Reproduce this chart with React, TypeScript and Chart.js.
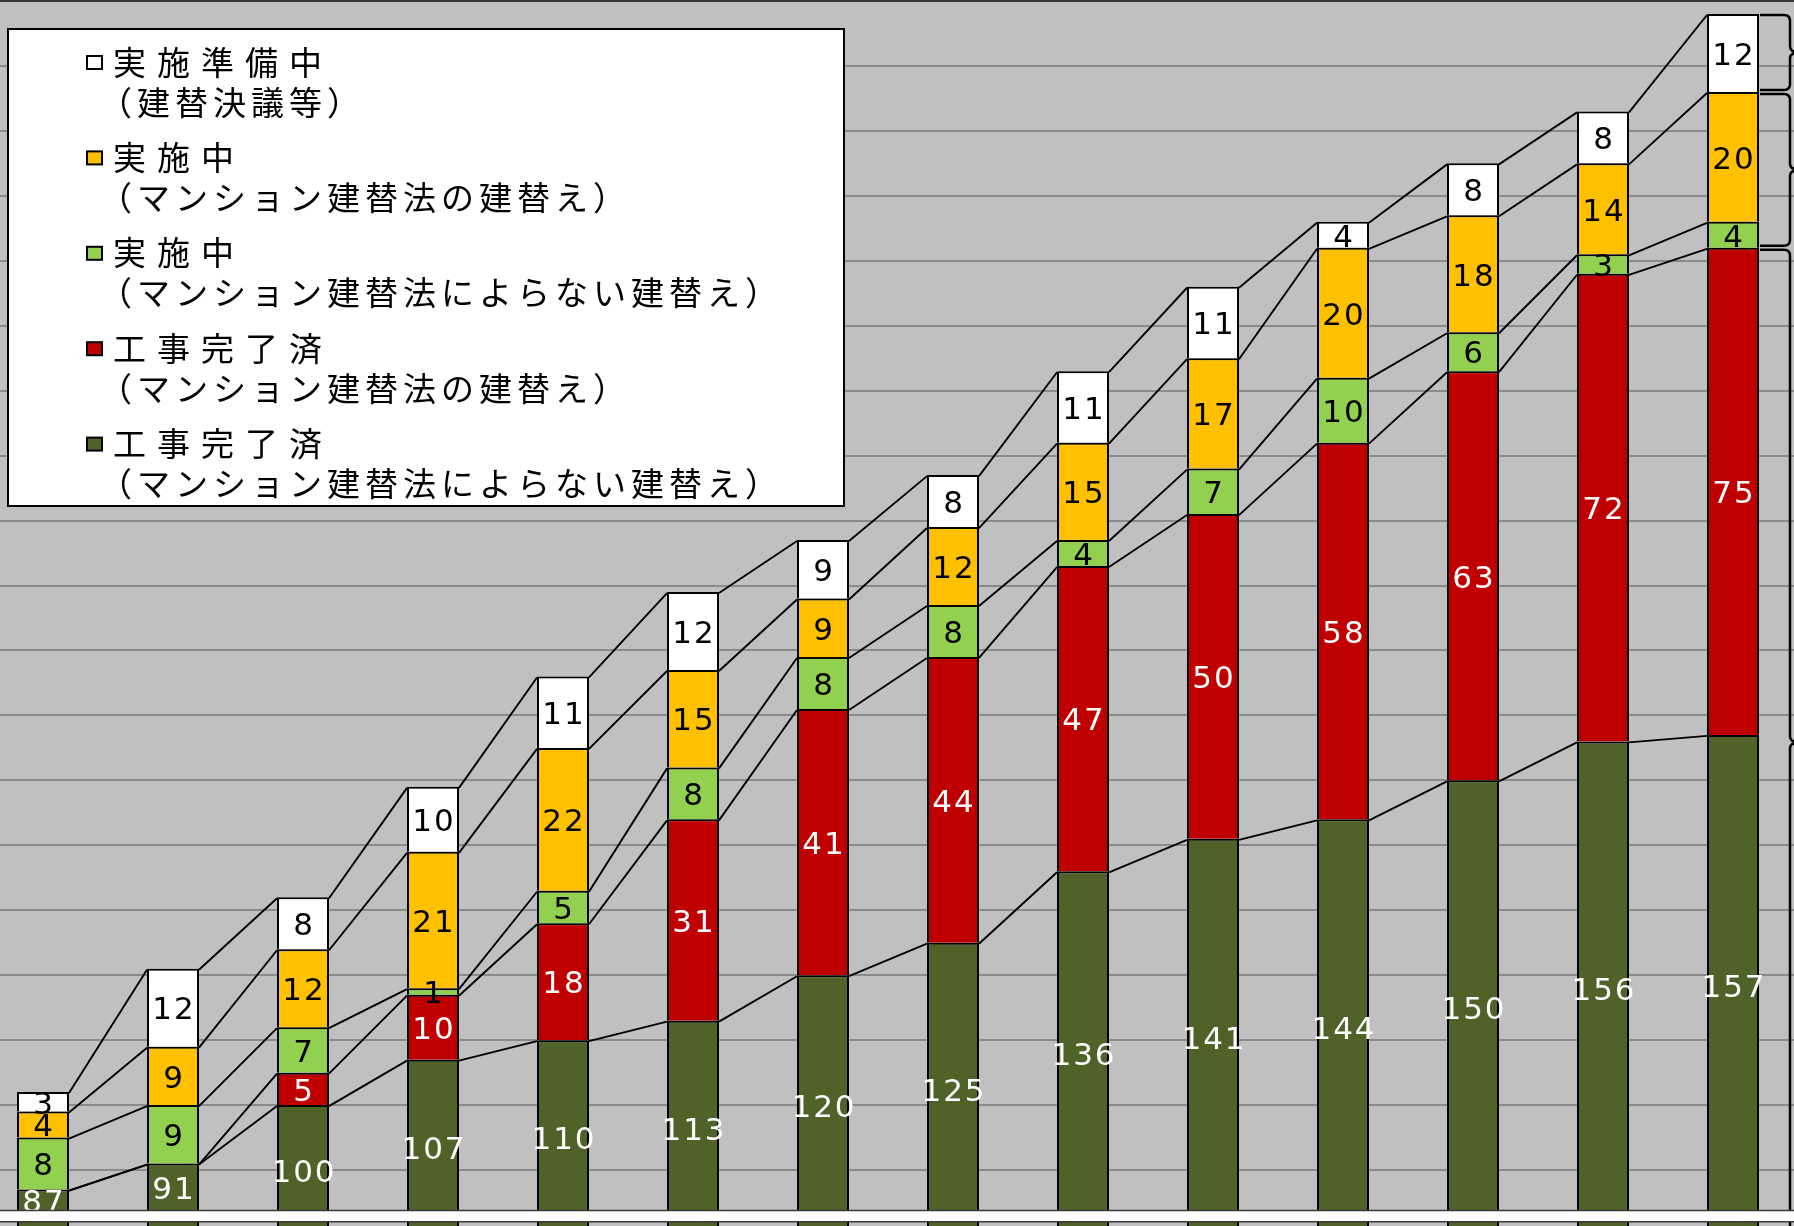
import React, { useEffect, useRef } from 'react';
import { Chart, registerables } from 'chart.js';

Chart.register(...registerables);

// ---- data (bottom of stack to top) ----
const categories = ['1', '2', '3', '4', '5', '6', '7', '8', '9', '10', '11', '12', '13', '14'];
const completedOther = [87, 91, 100, 107, 110, 113, 120, 125, 136, 141, 144, 150, 156, 157];
const completedLaw = [0, 0, 5, 10, 18, 31, 41, 44, 47, 50, 58, 63, 72, 75];
const ongoingOther = [8, 9, 7, 1, 5, 8, 8, 8, 4, 7, 10, 6, 3, 4];
const ongoingLaw = [4, 9, 12, 21, 22, 15, 9, 12, 15, 17, 20, 18, 14, 20];
const preparing = [3, 12, 8, 10, 11, 12, 9, 8, 11, 11, 4, 8, 8, 12];

const seriesTitles = ['工事完了済', '工事完了済', '実施中', '実施中', '実施準備中'];
const seriesNotes = [
  '（マンション建替法によらない建替え）',
  '（マンション建替法の建替え）',
  '（マンション建替法によらない建替え）',
  '（マンション建替法の建替え）',
  '（建替決議等）',
];
const seriesColors = ['#4f6228', '#c00000', '#92d050', '#ffc000', '#ffffff'];
const labelColors = ['#ffffff', '#ffffff', '#000000', '#000000', '#000000'];

const Y_MIN = 80;
const Y_MAX = 270;
const Y_STEP = 10;

const SHIFT_X = 22; // canvas is offset left so the first bar is partly at the page edge
const CANVAS_W = 1820;
const CANVAS_H = 1235;
const BREAK_TOP = 1211;
const BREAK_H = 10;

const allSeries = [completedOther, completedLaw, ongoingOther, ongoingLaw, preparing];

function drawBrace(ctx: CanvasRenderingContext2D, x0: number, yT: number, yB: number, yM: number) {
  const x1 = x0 + 30;
  const r = 6;
  ctx.beginPath();
  ctx.moveTo(x0, yT);
  ctx.lineTo(x1 - r, yT);
  ctx.quadraticCurveTo(x1, yT, x1, yT + r);
  ctx.lineTo(x1, yM - r);
  ctx.quadraticCurveTo(x1, yM, x1 + r + 4, yM);
  ctx.moveTo(x1 + r + 4, yM);
  ctx.quadraticCurveTo(x1, yM, x1, yM + r);
  ctx.lineTo(x1, yB - r);
  ctx.quadraticCurveTo(x1, yB, x1 - r, yB);
  ctx.lineTo(x0, yB);
  ctx.stroke();
}

const decorPlugin = {
  id: 'decor',
  beforeDraw(chart: any) {
    const ctx = chart.ctx as CanvasRenderingContext2D;
    ctx.save();
    ctx.fillStyle = '#c0c0c0';
    ctx.fillRect(0, 0, chart.width, chart.height);
    ctx.restore();
  },
  afterDatasetsDraw(chart: any) {
    const ctx = chart.ctx as CanvasRenderingContext2D;
    const area = chart.chartArea;
    ctx.save();
    // connector lines between bars for each cumulative boundary
    ctx.strokeStyle = '#000';
    ctx.lineWidth = 1.9;
    for (let k = 0; k < allSeries.length; k++) {
      const meta = chart.getDatasetMeta(k);
      for (let i = 0; i < categories.length - 1; i++) {
        const a = meta.data[i] as any;
        const b = meta.data[i + 1] as any;
        ctx.beginPath();
        ctx.moveTo(a.x + a.width / 2, a.y + 1);
        ctx.lineTo(b.x - b.width / 2, b.y + 1);
        ctx.stroke();
      }
    }
    // value labels
    const fs = 31;
    ctx.font = `${fs}px "DejaVu Sans"`;
    (ctx as any).letterSpacing = '2px';
    ctx.textAlign = 'center';
    ctx.textBaseline = 'alphabetic';
    for (let k = 0; k < allSeries.length; k++) {
      const meta = chart.getDatasetMeta(k);
      for (let i = 0; i < categories.length; i++) {
        const v = allSeries[k][i];
        if (!v) continue;
        const el = meta.data[i] as any;
        const top = el.y + 1;
        const bottom = k === 0 ? area.bottom : el.base;
        let cy = (top + bottom) / 2;
        if (k === 0 && cy + 16 > BREAK_TOP) cy = (top + BREAK_TOP) / 2;
        ctx.fillStyle = labelColors[k];
        ctx.fillText(String(v), el.x + 1, cy + fs * 0.364);
      }
    }
    ctx.restore();
  },
  afterDraw(chart: any) {
    const ctx = chart.ctx as CanvasRenderingContext2D;
    const y = chart.scales.y;
    ctx.save();
    // braces beside the last bar
    const last = categories.length - 1;
    const elTop = chart.getDatasetMeta(4).data[last] as any;
    const elOng = chart.getDatasetMeta(3).data[last] as any;
    const elOngO = chart.getDatasetMeta(2).data[last] as any;
    const elLaw = chart.getDatasetMeta(1).data[last] as any;
    const x0 = elTop.x + elTop.width / 2 + 1;
    ctx.strokeStyle = '#000';
    ctx.lineWidth = 2.5;
    const b1T = elTop.y + 1, b1B = elTop.base - 2;
    drawBrace(ctx, x0, b1T, b1B, (b1T + b1B) / 2);
    const b2T = elOng.y + 2, b2B = elOngO.base - 2;
    drawBrace(ctx, x0, b2T, b2B, (b2T + b2B) / 2);
    const b3T = elLaw.y + 2, b3B = y.getPixelForValue(Y_MIN) + 40;
    drawBrace(ctx, x0, b3T, b3B, (b3T + y.getPixelForValue(Y_MIN)) / 2);

    // axis break band
    ctx.fillStyle = '#ffffff';
    ctx.fillRect(0, BREAK_TOP, chart.width, BREAK_H);
    ctx.strokeStyle = '#3a3a3a';
    ctx.lineWidth = 1.5;
    ctx.beginPath();
    ctx.moveTo(0, BREAK_TOP - 0.5);
    ctx.lineTo(chart.width, BREAK_TOP - 0.5);
    ctx.moveTo(0, BREAK_TOP + BREAK_H + 0.8);
    ctx.lineTo(chart.width, BREAK_TOP + BREAK_H + 0.8);
    ctx.stroke();

    // legend box
    const bx = 8 + SHIFT_X, by = 29, bw = 836, bh = 477;
    ctx.fillStyle = '#ffffff';
    ctx.fillRect(bx, by, bw, bh);
    ctx.strokeStyle = '#000';
    ctx.lineWidth = 2;
    ctx.strokeRect(bx, by, bw, bh);
    ctx.textAlign = 'left';
    ctx.textBaseline = 'middle';
    ctx.font = '33px "Noto Sans CJK JP"';
    for (let j = 0; j < allSeries.length; j++) {
      const k = allSeries.length - 1 - j;
      const cy1 = 62 + j * 95.4;
      const cy2 = cy1 + 40;
      ctx.fillStyle = seriesColors[k];
      ctx.fillRect(87 + SHIFT_X, cy1 - 6, 15, 13);
      ctx.lineWidth = 2;
      ctx.strokeStyle = '#000';
      ctx.strokeRect(87 + SHIFT_X, cy1 - 6, 15, 13);
      ctx.fillStyle = '#000';
      (ctx as any).letterSpacing = '11px';
      ctx.fillText(seriesTitles[k], 113 + SHIFT_X, cy1);
      (ctx as any).letterSpacing = '5px';
      ctx.fillText(seriesNotes[k], 99 + SHIFT_X, cy2);
    }
    ctx.restore();
  },
};

export default function App() {
  const ref = useRef<HTMLCanvasElement | null>(null);
  useEffect(() => {
    if (!ref.current) return;
    const chart = new Chart(ref.current, {
      type: 'bar',
      data: {
        labels: categories,
        datasets: allSeries.map((d, k) => ({
          label: seriesTitles[k] + seriesNotes[k],
          data: d,
          backgroundColor: seriesColors[k],
          borderColor: '#000000',
          borderWidth: { top: 2, left: 2, right: 2, bottom: 0 },
          borderSkipped: false,
          barPercentage: 0.4,
          categoryPercentage: 1,
        })),
      },
      options: {
        responsive: false,
        animation: false,
        devicePixelRatio: 1,
        layout: { padding: { top: 1, left: 0, right: 0, bottom: 0 } },
        plugins: { legend: { display: false }, tooltip: { enabled: false } },
        scales: {
          x: { stacked: true, display: false },
          y: {
            stacked: true,
            min: Y_MIN,
            max: Y_MAX,
            ticks: { display: false, stepSize: Y_STEP },
            grid: {
              drawTicks: false,
              lineWidth: 2,
              color: (c: any) => (c.tick && c.tick.value === Y_MAX ? '#3a3a3a' : '#8a8a8a'),
            },
            border: { display: false },
          },
        },
      },
      plugins: [decorPlugin],
    });
    return () => chart.destroy();
  }, []);
  return (
    <div style={{ position: 'fixed', left: -SHIFT_X, top: 0, width: CANVAS_W, height: CANVAS_H }}>
      <canvas ref={ref} width={CANVAS_W} height={CANVAS_H} style={{ display: 'block' }} />
    </div>
  );
}
